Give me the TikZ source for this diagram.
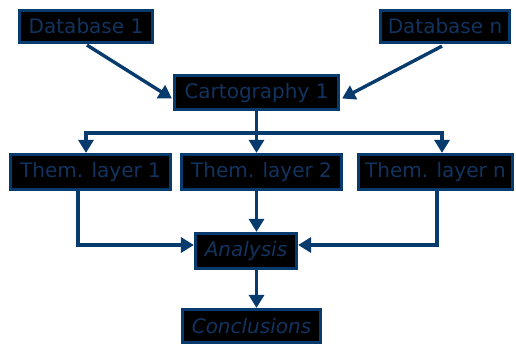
\documentclass[tikz,border=0pt]{standalone}
\usepackage{fontspec}
\setmainfont{DejaVu Sans}
\usetikzlibrary{arrows.meta,calc}
\definecolor{navy}{HTML}{073A6D}
\definecolor{txtblue}{HTML}{12335F}
\tikzset{
  box/.style={draw=navy, line width=3.2pt, fill=black, text=txtblue, inner sep=0pt,
    font=\fontsize{20}{23}\selectfont, anchor=center},
  conn/.style={draw=navy, line width=3.4pt},
  arr/.style={conn, -{Triangle[length=13pt,width=15pt]}}
}
\begin{document}
\begin{tikzpicture}[x=1pt,y=-1pt]
\useasboundingbox (0,0) rectangle (516,345);
\node[box, minimum width=133pt, minimum height=32pt] (db1) at (86,26.5) {Database 1};
\node[box, minimum width=129pt, minimum height=32pt] (dbn) at (445,26.5) {Database n};
\node[box, minimum width=164pt, minimum height=34pt] (cart) at (256.5,92.5) {Cartography 1};
\node[box, minimum width=160pt, minimum height=35pt] (t1) at (90.5,172) {Them. layer 1};
\node[box, minimum width=160pt, minimum height=35pt] (t2) at (261.5,172) {Them. layer 2};
\node[box, minimum width=154pt, minimum height=35pt] (tn) at (435.5,172) {Them. layer n};
\node[box, minimum width=101pt, minimum height=35pt] (an) at (246,251) {\itshape Analysis};
\node[box, minimum width=138pt, minimum height=33pt] (co) at (251.5,326) {\itshape Conclusions};
\coordinate (bl) at (86,133);
\coordinate (br) at (442,133);
\draw[arr] ($(db1.south)+(1,1)$) -- ($(cart.west)+(-1,6)$);
\draw[arr] ($(dbn.south)+(-3,2)$) -- ($(cart.east)+(2,6)$);
\draw[conn] (cart.south) -- (cart.south |- bl);
\draw[conn, line cap=rect] (bl) -- (br);
\draw[arr] (bl) -- (bl |- t1.north);
\draw[arr] (cart.south |- bl) -- (cart.south |- t2.north);
\draw[arr] (br) -- (br |- tn.north);
\draw[arr] ($(t1.south)+(-12.5,0)$) |- ($(an.west)+(0,-6)$);
\draw[arr] ($(tn.south)+(1.5,0)$) |- ($(an.east)+(0,-6)$);
\draw[arr] (cart.south |- t2.south) -- (cart.south |- an.north);
\draw[arr] (cart.south |- an.south) -- (cart.south |- co.north);
\end{tikzpicture}
\end{document}
